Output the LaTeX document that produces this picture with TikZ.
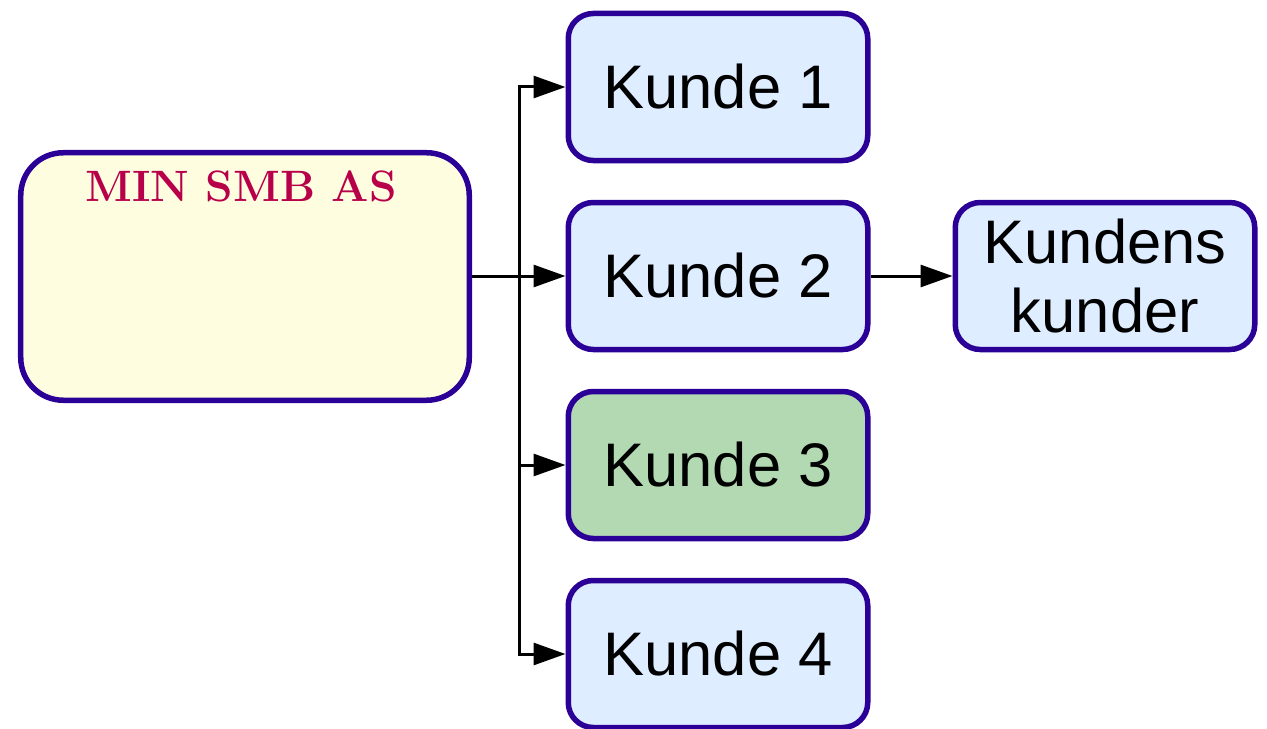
\documentclass[tikz,border=0pt]{standalone}
\usepackage{fontspec}
\setsansfont{Liberation Sans}
\usetikzlibrary{arrows.meta}
\definecolor{boxline}{RGB}{42,0,150}
\definecolor{kundefill}{RGB}{222,237,255}
\definecolor{greenfill}{RGB}{179,217,179}
\definecolor{smbfill}{RGB}{255,253,224}
\definecolor{smbtitle}{RGB}{184,0,74}
\tikzset{
	kunde/.style={draw=boxline, line width=0.11cm, fill=kundefill, rounded corners=0.5cm,
		minimum width=5.99cm, minimum height=2.94cm, align=center,
		font=\sffamily\fontsize{35}{39}\selectfont},
	conn/.style={line width=0.06cm, -{Triangle[length=0.64cm,width=0.44cm]}}
}

\begin{document}
\begin{tikzpicture}
		%%%%% START %%%%%
		\useasboundingbox (0, 0) rectangle (25.34, -14.58);
		
		\node[draw=boxline, line width=0.11cm, fill=smbfill, rounded corners=0.85cm,
			minimum width=8.97cm, minimum height=4.95cm] (smb) at (4.9, -5.53) {};
		\node[text=smbtitle, font=\bfseries\fontsize{25}{29}\selectfont] (smbname) at (4.82, -3.72) {MIN SMB AS};
		
		\node[kunde] (k1) at (14.36, -1.74) {Kunde 1};
		\node[kunde] (k2) at (14.36, -5.52) {Kunde 2};
		\node[kunde, fill=greenfill] (k3) at (14.36, -9.30) {Kunde 3};
		\node[kunde] (k4) at (14.36, -13.08) {Kunde 4};
		\node[kunde] (kk) at (22.1, -5.52) {Kundens\\kunder};
		
		\coordinate (split) at (10.38, -5.52);
		\draw[line width=0.06cm] (smb.east |- split) -- (split);
		\draw[conn] (split) |- (k1);
		\draw[conn] (split) -- (k2);
		\draw[conn] (split) |- (k3);
		\draw[conn] (split) |- (k4);
		\draw[conn] (k2) -- (kk);
		
		%%%%% END %%%%%
	\end{tikzpicture}
\end{document}
